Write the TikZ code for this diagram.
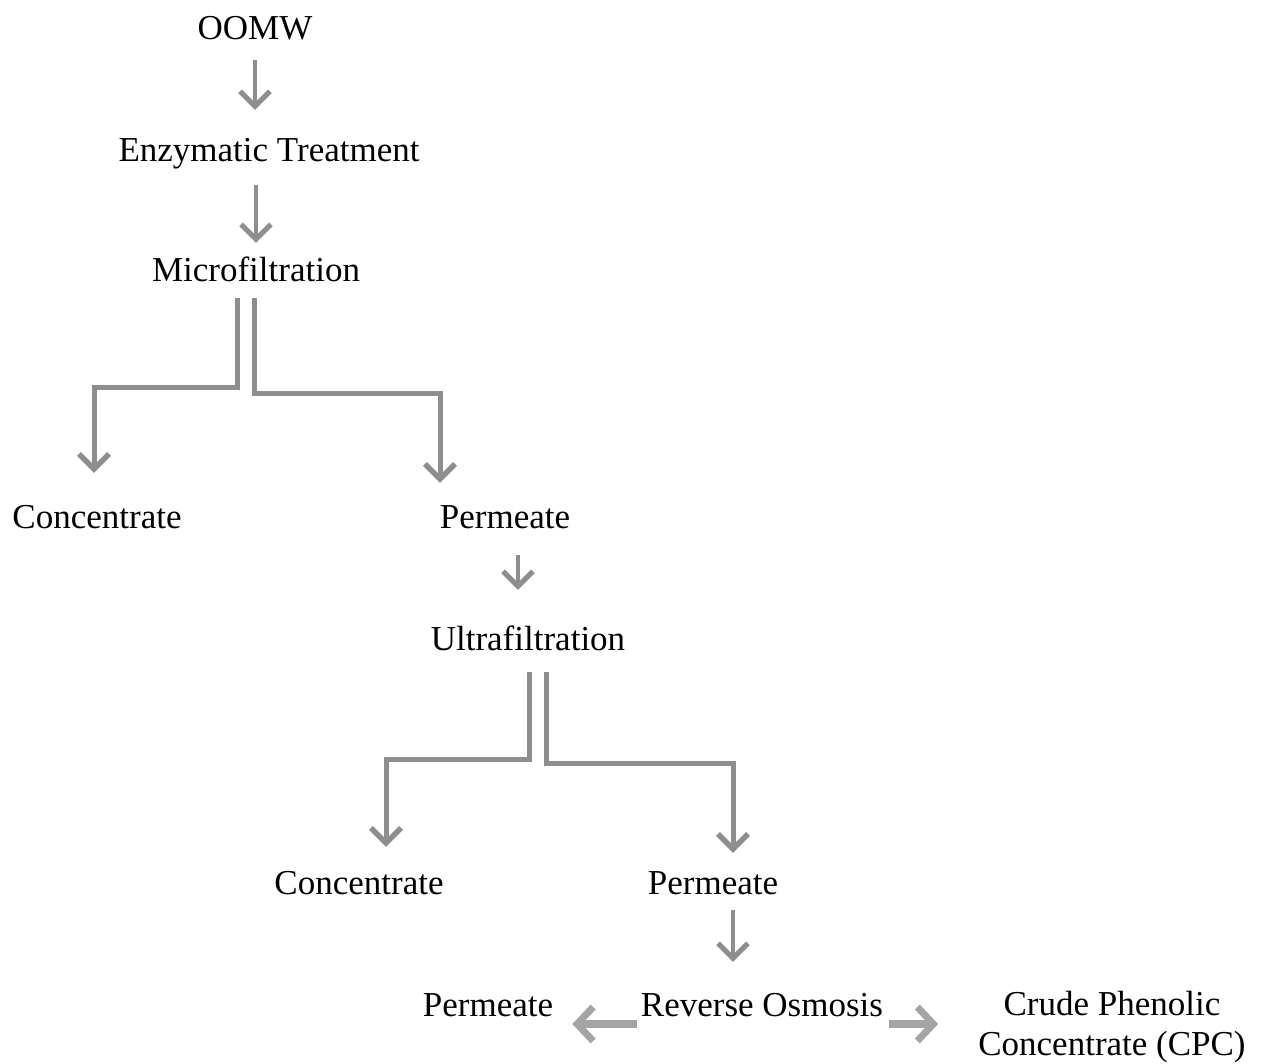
\documentclass[tikz,border=0pt]{standalone}
\usepackage{fontspec}
\setmainfont{Liberation Serif}
\usetikzlibrary{arrows.meta}
\definecolor{flowgray}{HTML}{8E8E8E}
\definecolor{sidegray}{HTML}{A4A4A4}
\begin{document}
\begin{tikzpicture}[x=1pt,y=-1pt,
  lbl/.style={inner sep=0pt,anchor=base,text height=24pt,text depth=8pt,
    font=\fontsize{35}{40}\selectfont},
  arr/.style={draw=flowgray,line width=4pt,
    -{Straight Barb[length=15pt,width=30pt,line width=5pt]}},
  split/.style={draw=flowgray,line width=5pt,line join=miter,
    -{Straight Barb[length=15pt,width=30pt,line width=5.5pt]}},
  side/.style={draw=sidegray,line width=8pt,
    -{Straight Barb[length=16pt,width=34pt,line width=7pt]}}]
\useasboundingbox (0,0) rectangle (1261,1064);

% process steps and products
\node[lbl] (oomw)  at (255,40)   {OOMW};
\node[lbl] (enz)   at (269,162)  {Enzymatic Treatment};
\node[lbl] (micro) at (256,282)  {Microfiltration};
\node[lbl] (conc1) at (97,528)   {Concentrate};
\node[lbl] (perm1) at (505,528)  {Permeate};
\node[lbl] (ultra) at (528,650)  {Ultrafiltration};
\node[lbl] (conc2) at (359,894)  {Concentrate};
\node[lbl] (perm2) at (713,894)  {Permeate};
\node[lbl] (ro)    at (762,1016) {Reverse Osmosis};
\node[lbl] (perm3) at (488,1016) {Permeate};
\node[inner sep=0pt,anchor=north,align=center,
      font=\fontsize{35}{40}\selectfont] (cpc) at (1112,991)
      {Crude Phenolic\\Concentrate (CPC)};

% straight steps
\draw[arr,shorten <=12pt,shorten >=28pt] (oomw.south) -- (oomw.south |- enz.north);
\draw[arr,shorten <=15pt,shorten >=15pt] (micro.north |- enz.south) -- (micro.north);
\coordinate (p1a) at ([xshift=13pt]perm1.south);
\draw[arr,shorten <=19pt,shorten >=36pt] (p1a) -- (p1a |- ultra.north);
\coordinate (p2a) at ([xshift=20pt]perm2.south);
\draw[arr,shorten <=8pt,shorten >=30pt] (p2a) -- (p2a |- ro.north);

% microfiltration split
\draw[split] ([xshift=-19pt,yshift=-8pt]micro.south) -- ++(0,89)
  -| ([xshift=-3pt,yshift=31pt]conc1.north);
\draw[split] ([xshift=-2pt,yshift=-8pt]micro.south) -- ++(0,95)
  -| ([xshift=-65pt,yshift=21pt]perm1.north);

% ultrafiltration split
\draw[split] ([xshift=1pt,yshift=-14pt]ultra.south) -- ++(0,87)
  -| ([xshift=27pt,yshift=23pt]conc2.north);
\draw[split] ([xshift=18pt,yshift=-14pt]ultra.south) -- ++(0,91)
  -| ([xshift=20pt,yshift=17pt]perm2.north);

% reverse osmosis outputs
\draw[side,shorten <=4pt,shorten >=19pt] ([yshift=-8pt]ro.base west) -- ([yshift=-8pt]ro.base west -| perm3.east);
\draw[side,shorten <=6pt,shorten >=40pt] ([yshift=-8pt]ro.base east) -- ([yshift=-8pt]ro.base east -| cpc.west);
\end{tikzpicture}
\end{document}
